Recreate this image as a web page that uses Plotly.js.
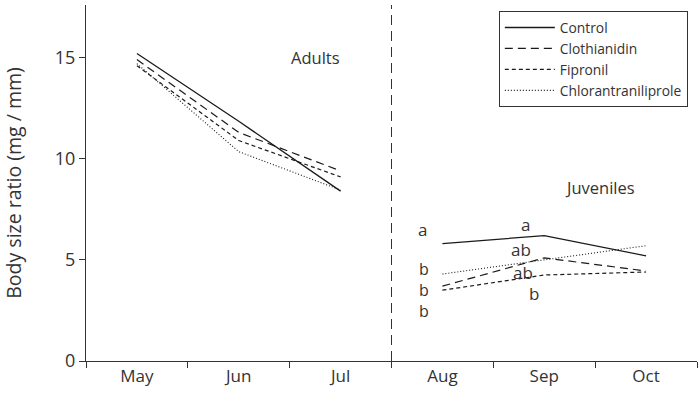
<!DOCTYPE html>
<html>
<head>
<meta charset="utf-8">
<script src="https://cdn.plot.ly/plotly-3.0.1.min.js"></script>
<style>
  html, body { margin: 0; padding: 0; background: #fff; }
  #myDiv { width: 700px; height: 405px; }
</style>
</head>
<body>
<div id="myDiv"></div>
<script>
const months = ['May', 'Jun', 'Jul', 'Aug', 'Sep', 'Oct'];
const adultMonths = ['May', 'Jun', 'Jul'];
const juvenileMonths = ['Aug', 'Sep', 'Oct'];

const controlAdults = [15.2, 11.85, 8.4];
const clothianidinAdults = [14.9, 11.3, 9.4];
const fipronilAdults = [14.6, 10.9, 9.1];
const chlorAdults = [14.7, 10.35, 8.45];

const controlJuv = [5.8, 6.2, 5.2];
const clothianidinJuv = [3.7, 5.1, 4.45];
const fipronilJuv = [3.5, 4.25, 4.4];
const chlorJuv = [4.3, 5.0, 5.7];

// significance letters (x = category index, y = data value)
const letterX = [2.8, 2.82, 3.82, 3.77, 3.79, 3.9];
const letterY = [6.5, 3.5, 6.75, 5.5, 4.4, 3.35];
const letterText = ['a', 'b<br>b<br>b', 'a', 'ab', 'ab', 'b'];

const ink = '#1a1a1a';
const fontFam = 'Open Sans, sans-serif';

const series = [
    { name: 'Control', adults: controlAdults, juv: controlJuv, dash: 'solid', width: 1.3 },
    { name: 'Clothianidin', adults: clothianidinAdults, juv: clothianidinJuv, dash: '8px,5px', width: 1.2 },
    { name: 'Fipronil', adults: fipronilAdults, juv: fipronilJuv, dash: '4px,3px', width: 1.2 },
    { name: 'Chlorantraniliprole', adults: chlorAdults, juv: chlorJuv, dash: '1px,2px', width: 1.1 }
];

let data = [];
series.forEach(function (s) {
    data.push({
        x: adultMonths, y: s.adults, name: s.name, legendgroup: s.name,
        type: 'scatter', mode: 'lines',
        line: { color: ink, width: s.width, dash: s.dash }
    });
    data.push({
        x: juvenileMonths, y: s.juv, name: s.name, legendgroup: s.name, showlegend: false,
        type: 'scatter', mode: 'lines',
        line: { color: ink, width: s.width, dash: s.dash }
    });
});

let annotations = [
    { x: 1.75, y: 15.0, xref: 'x', yref: 'y', text: 'Adults', showarrow: false,
      font: { family: fontFam, size: 16.5, color: '#333' } },
    { x: 4.55, y: 8.6, xref: 'x', yref: 'y', text: 'Juveniles', showarrow: false,
      font: { family: fontFam, size: 16.5, color: '#333' } }
];
for (let i = 0; i < letterText.length; i++) {
    annotations.push({
        x: letterX[i], y: letterY[i], xref: 'x', yref: 'y', text: letterText[i], showarrow: false,
        font: { family: fontFam, size: i === 1 ? 16 : 17, color: '#333' }
    });
}

const layout = {
    width: 700,
    height: 405,
    paper_bgcolor: '#ffffff',
    plot_bgcolor: '#ffffff',
    margin: { l: 86, r: 3, t: 5, b: 44 },
    font: { family: fontFam, color: '#333' },
    showlegend: true,
    legend: {
        x: 0.985, y: 0.983, xanchor: 'right', yanchor: 'top',
        bordercolor: '#333', borderwidth: 1, bgcolor: '#fff',
        font: { family: fontFam, size: 13.8, color: '#333' },
        itemwidth: 50,
        tracegroupgap: 0
    },
    xaxis: {
        type: 'category',
        categoryorder: 'array',
        categoryarray: months,
        range: [-0.5, 5.5],
        tickson: 'boundaries',
        ticks: 'outside',
        ticklen: 6,
        tickcolor: '#333',
        showline: true,
        linecolor: '#333',
        linewidth: 1,
        showgrid: false,
        zeroline: false,
        tickfont: { family: fontFam, size: 17, color: '#333' }
    },
    yaxis: {
        range: [0, 17.6],
        tickvals: [0, 5, 10, 15],
        ticks: 'outside',
        ticklen: 6,
        tickcolor: '#333',
        showline: true,
        linecolor: '#333',
        linewidth: 1,
        showgrid: false,
        zeroline: false,
        tickfont: { family: fontFam, size: 18, color: '#333' },
        title: { text: 'Body size ratio (mg / mm)', font: { family: fontFam, size: 19.5, color: '#333' }, standoff: 28 }
    },
    shapes: [
        { type: 'line', xref: 'x', yref: 'paper', x0: 2.5, x1: 2.5, y0: 0, y1: 1,
          line: { color: '#333', width: 1, dash: '10px,6px' } }
    ],
    annotations: annotations
};

Plotly.newPlot('myDiv', data, layout, { displayModeBar: false, staticPlot: true });
</script>
</body>
</html>
